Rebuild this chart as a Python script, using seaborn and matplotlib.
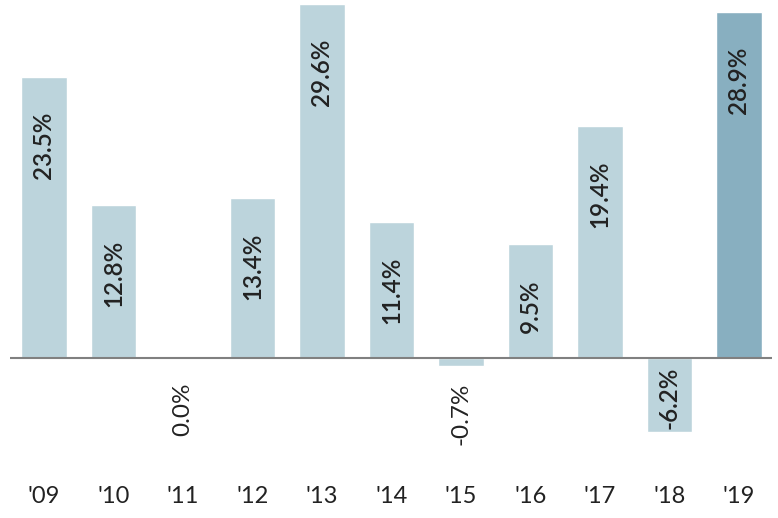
import matplotlib
matplotlib.use('Agg')
import matplotlib.pyplot as plt
import seaborn as sns
import pandas as pd

# --- data ---
years = ["'09", "'10", "'11", "'12", "'13", "'14", "'15", "'16", "'17", "'18", "'19"]
returns = [23.5, 12.8, 0.0, 13.4, 29.6, 11.4, -0.7, 9.5, 19.4, -6.2, 28.9]
labels = ["23.5%", "12.8%", "0.0%", "13.4%", "29.6%", "11.4%", "-0.7%", "9.5%", "19.4%", "-6.2%", "28.9%"]
highlight = ["past"] * 10 + ["latest"]

LIGHT = '#bcd4dc'
DARK = '#88afc0'
TEXT = '#222222'

sns.set_theme(style="white")
plt.rcParams['font.family'] = ['Lato', 'DejaVu Sans']

W, H = 778, 518
fig = plt.figure(figsize=(W / 100, H / 100), dpi=100)

# axes spans the zero line horizontally, top of figure to just above tick labels
px_per_unit = 11.96
zero_px = 358
bottom_px = 468
ax = fig.add_axes([10 / W, 1 - bottom_px / H, 762 / W, bottom_px / H])

df = pd.DataFrame({'year': years, 'ret': returns, 'grp': highlight})
sns.barplot(data=df, x='year', y='ret', hue='grp', palette={'past': LIGHT, 'latest': DARK},
            dodge=False, legend=False, width=0.66, saturation=1, ax=ax)

ax.set_xlim(-0.489, 10.475)
ax.set_ylim(-(bottom_px - zero_px) / px_per_unit, zero_px / px_per_unit)
ax.axhline(0, color='#808080', linewidth=1.5, zorder=3)

# value labels, rotated inside/below bars
for i, (v, lab) in enumerate(zip(returns, labels)):
    if v > 0:
        ax.annotate(lab, (i, v), xytext=(0, -25), textcoords='offset points',
                    rotation=90, ha='center', va='top', fontsize=17.5, color=TEXT, fontweight='semibold')
    elif v < -3:
        ax.annotate(lab, (i, 0), xytext=(0, -6.5), textcoords='offset points',
                    rotation=90, ha='center', va='top', fontsize=17.5, color=TEXT, fontweight='semibold')
    else:
        ax.annotate(lab, (i, 0), xytext=(0, -18), textcoords='offset points',
                    rotation=90, ha='center', va='top', fontsize=17.5, color=TEXT)

ax.set_xlabel('')
ax.set_ylabel('')
ax.set_yticks([])
ax.tick_params(axis='x', length=0, pad=13, labelsize=17, labelcolor=TEXT)
sns.despine(ax=ax, left=True, bottom=True)

fig.savefig('out.png', dpi=100)
